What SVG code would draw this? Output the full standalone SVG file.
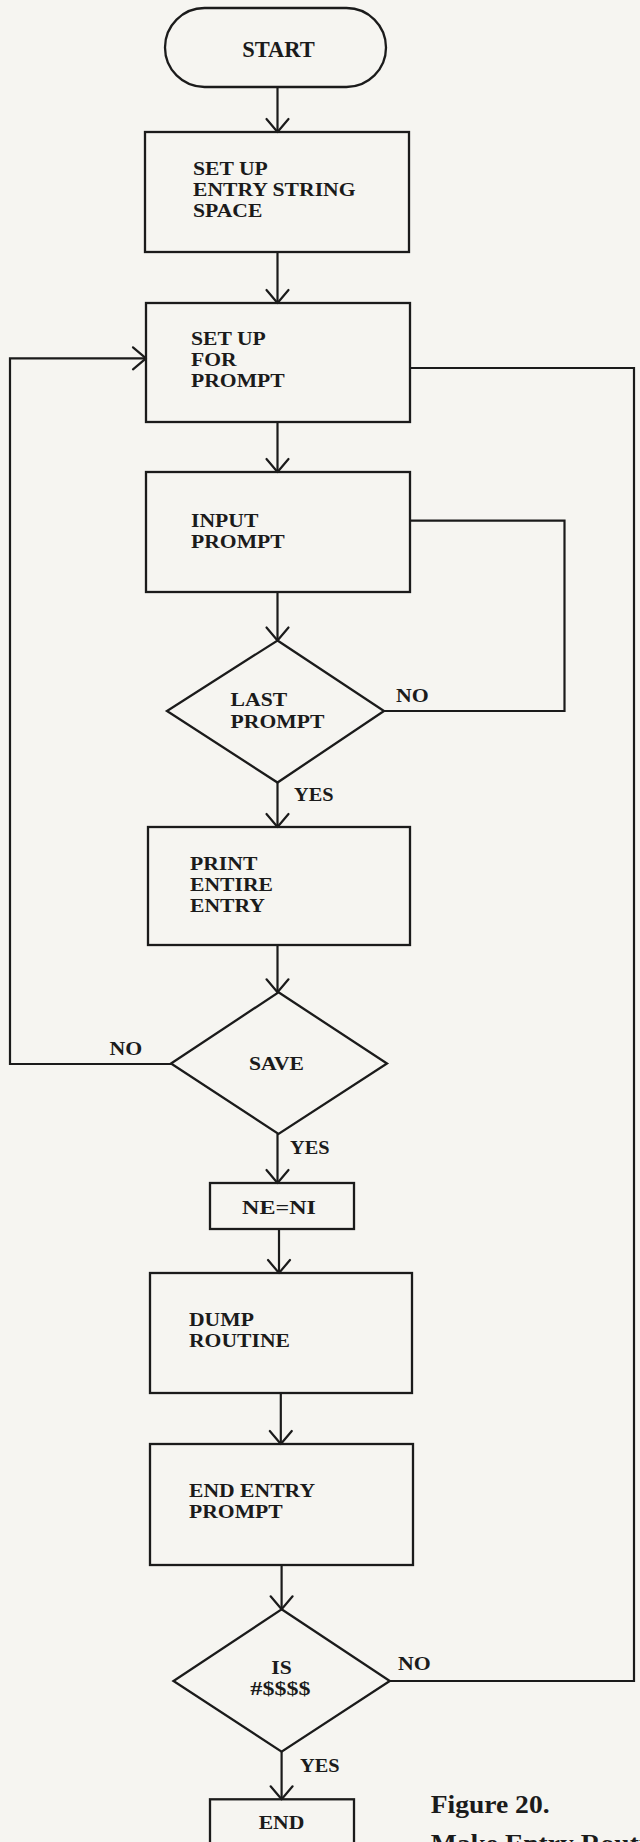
<svg xmlns="http://www.w3.org/2000/svg" width="640" height="1842" viewBox="0 0 640 1842">
<style>
.shape{fill:none;stroke:#1b1b1b;stroke-width:2.3;stroke-linejoin:miter}
.conn{fill:none;stroke:#1b1b1b;stroke-width:2.2;stroke-linejoin:miter}
.t{font-family:"Liberation Serif","Times New Roman",serif;font-weight:bold;font-size:18.5px;fill:#1b1b1b}
.big{font-family:"Liberation Serif","Times New Roman",serif;font-weight:bold;font-size:22.5px;fill:#1b1b1b}
.cap{font-family:"Liberation Serif","Times New Roman",serif;font-weight:bold;font-size:26px;fill:#1b1b1b}
.m{text-anchor:middle}
</style>
<defs>
<marker id="arr" markerUnits="userSpaceOnUse" viewBox="-16 -14 18 28" refX="0" refY="0" markerWidth="18" markerHeight="28" orient="auto">
<path d="M-13,-11 L0,0 L-13,11" fill="none" stroke="#1b1b1b" stroke-width="2.2" stroke-linejoin="round" stroke-linecap="round"/>
</marker>
</defs>
<rect x="0" y="0" width="640" height="1842" fill="#f6f5f1"/>

<g id="connectors">
<line class="conn" x1="277.5" y1="87" x2="277.5" y2="132" marker-end="url(#arr)"/>
<line class="conn" x1="277.5" y1="252" x2="277.5" y2="303" marker-end="url(#arr)"/>
<line class="conn" x1="277.5" y1="422" x2="277.5" y2="472" marker-end="url(#arr)"/>
<line class="conn" x1="277.5" y1="592" x2="277.5" y2="640.5" marker-end="url(#arr)"/>
<line class="conn" x1="277.5" y1="782.5" x2="277.5" y2="827" marker-end="url(#arr)"/>
<line class="conn" x1="277.5" y1="945" x2="277.5" y2="992.3" marker-end="url(#arr)"/>
<line class="conn" x1="277.5" y1="1134" x2="277.5" y2="1183" marker-end="url(#arr)"/>
<line class="conn" x1="279" y1="1229" x2="279" y2="1273" marker-end="url(#arr)"/>
<line class="conn" x1="280.8" y1="1393" x2="280.8" y2="1444" marker-end="url(#arr)"/>
<line class="conn" x1="281.6" y1="1565" x2="281.6" y2="1609.3" marker-end="url(#arr)"/>
<line class="conn" x1="281.6" y1="1751.7" x2="281.6" y2="1799.3" marker-end="url(#arr)"/>
<path class="conn" d="M171,1064 H10 V358.3 H146" marker-end="url(#arr)"/>
<path class="conn" d="M389.8,1681 H634 V368 H410"/>
<path class="conn" d="M384,711 H564.5 V520.7 H410"/>
<g transform="translate(396 0) scale(1.18 1)"><text class="t" x="0" y="701.7">NO</text></g>
<g transform="translate(294 0) scale(1.1 1)"><text class="t" x="0" y="800.7">YES</text></g>
<g transform="translate(109.4 0) scale(1.18 1)"><text class="t" x="0" y="1055">NO</text></g>
<g transform="translate(290 0) scale(1.1 1)"><text class="t" x="0" y="1154">YES</text></g>
<g transform="translate(398 0) scale(1.18 1)"><text class="t" x="0" y="1670">NO</text></g>
<g transform="translate(300 0) scale(1.1 1)"><text class="t" x="0" y="1771.7">YES</text></g>
</g>

<g id="start">
<rect class="shape" x="165" y="8" width="221" height="79" rx="39.5" ry="39.5"/>
<text class="big m" x="278.5" y="57">START</text>
</g>

<g id="setup-entry">
<rect class="shape" x="145" y="132" width="264" height="120"/>
<g transform="translate(193 0) scale(1.17 1)">
<text class="t" x="0" y="175">SET UP</text>
<text class="t" x="0" y="196">ENTRY STRING</text>
<text class="t" x="0" y="217">SPACE</text>
</g>
</g>

<g id="setup-prompt">
<rect class="shape" x="146" y="303" width="264" height="119"/>
<g transform="translate(191 0) scale(1.17 1)">
<text class="t" x="0" y="345">SET UP</text>
<text class="t" x="0" y="366">FOR</text>
<text class="t" x="0" y="387.3">PROMPT</text>
</g>
</g>

<g id="input-prompt">
<rect class="shape" x="146" y="472" width="264" height="120"/>
<g transform="translate(191 0) scale(1.17 1)">
<text class="t" x="0" y="526.7">INPUT</text>
<text class="t" x="0" y="548.3">PROMPT</text>
</g>
</g>

<g id="last-prompt">
<polygon class="shape" points="277.5,640.5 384,711 277.5,782.5 167,711"/>
<g transform="translate(230.6 0) scale(1.17 1)">
<text class="t" x="0" y="706">LAST</text>
<text class="t" x="0" y="728.3">PROMPT</text>
</g>
</g>

<g id="print-entry">
<rect class="shape" x="148" y="827" width="262" height="118"/>
<g transform="translate(190 0) scale(1.17 1)">
<text class="t" x="0" y="870">PRINT</text>
<text class="t" x="0" y="891">ENTIRE</text>
<text class="t" x="0" y="911.7">ENTRY</text>
</g>
</g>

<g id="save">
<polygon class="shape" points="278.5,992.3 387,1063.5 278.5,1134 171,1063.5"/>
<g transform="translate(276.5 0) scale(1.17 1)"><text class="t m" x="0" y="1070">SAVE</text></g>
</g>

<g id="ne-ni">
<rect class="shape" x="210" y="1183" width="144" height="46"/>
<g transform="translate(279 0) scale(1.3 1)"><text class="t m" x="0" y="1214.3">NE=NI</text></g>
</g>

<g id="dump">
<rect class="shape" x="150" y="1273" width="262" height="120"/>
<g transform="translate(189 0) scale(1.17 1)">
<text class="t" x="0" y="1325.7">DUMP</text>
<text class="t" x="0" y="1346.7">ROUTINE</text>
</g>
</g>

<g id="end-entry">
<rect class="shape" x="150" y="1444" width="263" height="121"/>
<g transform="translate(189 0) scale(1.17 1)">
<text class="t" x="0" y="1497.3">END ENTRY</text>
<text class="t" x="0" y="1518.3">PROMPT</text>
</g>
</g>

<g id="is-end">
<polygon class="shape" points="281.6,1609.3 389.8,1681 281.6,1751.7 173.5,1681"/>
<g transform="translate(281.6 0) scale(1.17 1)"><text class="t m" x="0" y="1674">IS</text></g>
<g transform="translate(280.4 0) scale(1.3 1)"><text class="t m" x="0" y="1695">#$$$$</text></g>
</g>

<g id="end">
<rect class="shape" x="210" y="1799.3" width="144" height="60"/>
<g transform="translate(281.5 0) scale(1.17 1)"><text class="t m" x="0" y="1829.3">END</text></g>
</g>

<g id="caption">
<g transform="translate(430.7 0) scale(1.06 1)">
<text class="cap" x="0" y="1813">Figure 20.</text>
<text class="cap" x="0" y="1852">Make Entry Routine</text>
</g>
</g>
</svg>
